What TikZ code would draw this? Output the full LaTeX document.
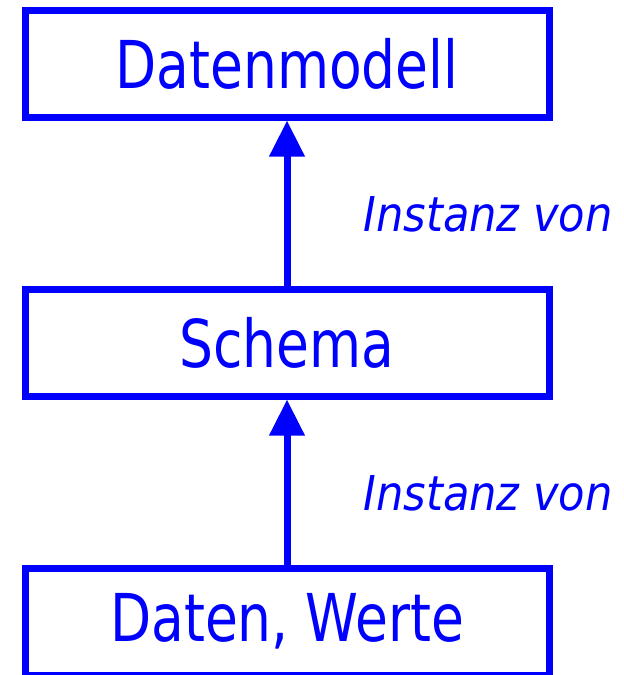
\documentclass[tikz,border=0pt]{standalone}
\usepackage{fontspec}
\setmainfont{DejaVu Sans Condensed}[FakeStretch=0.9, ItalicFeatures={FakeStretch=1.0}]
\usepackage{tikz}
\usetikzlibrary{positioning,arrows.meta}
\definecolor{blau}{RGB}{0,0,255}
\tikzset{
  ebene/.style={draw=blau, line width=7pt, minimum width=524pt, minimum height=107pt,
    text=blau, font=\fontsize{66}{66}\selectfont},
  inst/.style={-{Triangle[width=34pt,length=36pt]}, draw=blau, fill=blau, line width=7pt},
  lbl/.style={text=blau, inner sep=0pt, font=\fontsize{48}{48}\selectfont\itshape}
}

\begin{document}
\begin{tikzpicture}[node distance=165pt]
\useasboundingbox (0,0) rectangle (624pt,-675pt);

\node [ebene] (MODELL) at (287pt,-63.5pt) {Datenmodell};
\node [ebene, below=of MODELL] (SCHEMA) {Schema};
\node [ebene, below=of SCHEMA] (DATEN) {Daten, Werte};

\draw[inst] (SCHEMA) -- (MODELL) node [lbl, pos=0.43, right=73pt] {Instanz von};
\draw[inst] (DATEN) -- (SCHEMA) node [lbl, pos=0.43, right=73pt] {Instanz von};

\end{tikzpicture}
\end{document}
